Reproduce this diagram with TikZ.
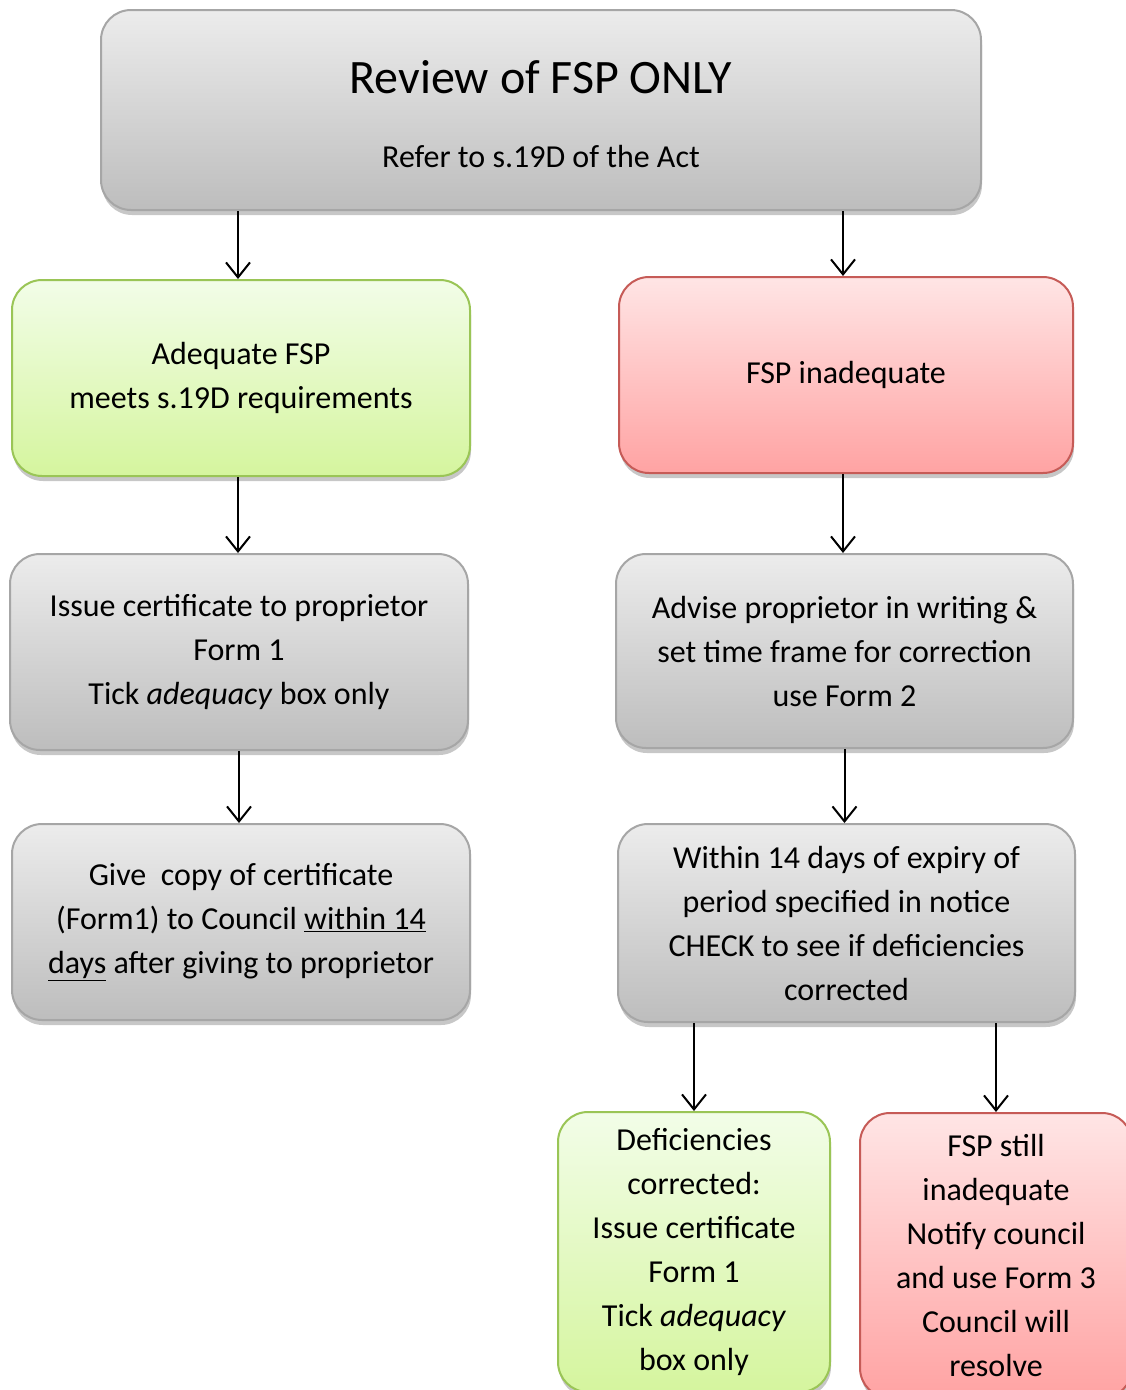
\documentclass[tikz,border=0pt]{standalone}
\usepackage{fontspec}
\setmainfont{Carlito}
\usetikzlibrary{arrows.meta,shadows}
\definecolor{grayT}{HTML}{ECECEC}
\definecolor{grayB}{HTML}{BDBDBD}
\definecolor{grayD}{HTML}{A6A6A6}
\definecolor{greenT}{HTML}{F2FDE8}
\definecolor{greenB}{HTML}{D5F59E}
\definecolor{greenD}{HTML}{9AC556}
\definecolor{redT}{HTML}{FFE5E5}
\definecolor{redB}{HTML}{FFA3A3}
\definecolor{redD}{HTML}{C65B57}
\newcommand{\bodyfnt}{\fontsize{32}{44}\selectfont}
\tikzset{
  boxbase/.style={rounded corners=30pt, line width=2pt, align=center, inner sep=0pt,
    font=\bodyfnt, text=black,
    drop shadow={shadow xshift=1pt, shadow yshift=-5pt, opacity=0.22, fill=black}},
  graybox/.style={boxbase, draw=grayD, top color=grayT, bottom color=grayB},
  greenbox/.style={boxbase, draw=greenD, top color=greenT, bottom color=greenB},
  redbox/.style={boxbase, draw=redD, top color=redT, bottom color=redB},
  arr/.style={line width=2pt, -{Straight Barb[length=15pt,width=24pt,line width=2pt]}},
  lbl/.style={inner sep=0pt, text=black}
}
\begin{document}
\begin{tikzpicture}[x=1pt,y=-1pt]
\useasboundingbox (0,0) rectangle (1126,1390);
\fill[white] (0,0) rectangle (1126,1390);

\node[graybox, minimum width=880pt, minimum height=200pt] (top) at (541,110) {};
\node[lbl, font=\fontsize{48}{50}\selectfont] (ttl) at (541,77) {Review of FSP ONLY};
\node[lbl, font=\bodyfnt] (sub) at (541,157) {Refer to s.19D of the Act};

\node[greenbox, minimum width=458pt, minimum height=196pt] (gL) at (241,378)
  {Adequate FSP\\meets s.19D requirements};
\node[redbox, minimum width=454pt, minimum height=196pt] (rR) at (846,375)
  {FSP inadequate};

\node[graybox, minimum width=458pt, minimum height=196pt] (g2L) at (239,652)
  {Issue certificate to proprietor\\Form 1\\Tick \textit{adequacy} box only};
\node[graybox, minimum width=457pt, minimum height=194pt] (g2R) at (844.5,651)
  {Advise proprietor in writing \&\\set time frame for correction\\use Form 2};

\node[graybox, minimum width=458pt, minimum height=196pt] (g3L) at (241,922)
  {Give\ \ copy of certificate\\(Form1) to Council \underline{within 14}\\\underline{days} after giving to proprietor};
\node[graybox, minimum width=457pt, minimum height=198pt] (g3R) at (846.5,923)
  {Within 14 days of expiry of\\period specified in notice\\CHECK to see if deficiencies\\corrected};

\node[greenbox, minimum width=272pt, minimum height=280pt] (d1) at (694,1252)
  {Deficiencies\\corrected:\\Issue certificate\\Form 1\\Tick \textit{adequacy}\\box only};
\node[redbox, minimum width=272pt, minimum height=285pt] (d2) at (996,1255.5)
  {FSP still\\inadequate\\Notify council\\and use Form 3\\Council will\\resolve};

\draw[arr] ([xshift=-3pt]top.south -| gL.north) -- ([xshift=-3pt]gL.north);
\draw[arr] ([xshift=-3pt]top.south -| rR.north) -- ([xshift=-3pt]rR.north);
\draw[arr] ([xshift=-3pt]gL.south -| gL.north) -- ([xshift=-3pt]gL.south |- g2L.north);
\draw[arr] ([xshift=-3pt]rR.south) -- ([xshift=-3pt]rR.south |- g2R.north);
\draw[arr] (g2L.south) -- (g3L.north -| g2L.south);
\draw[arr] (g2R.south) -- (g3R.north -| g2R.south);
\draw[arr] (g3R.south -| d1.north) -- (d1.north);
\draw[arr] (g3R.south -| d2.north) -- (d2.north);
\end{tikzpicture}
\end{document}
